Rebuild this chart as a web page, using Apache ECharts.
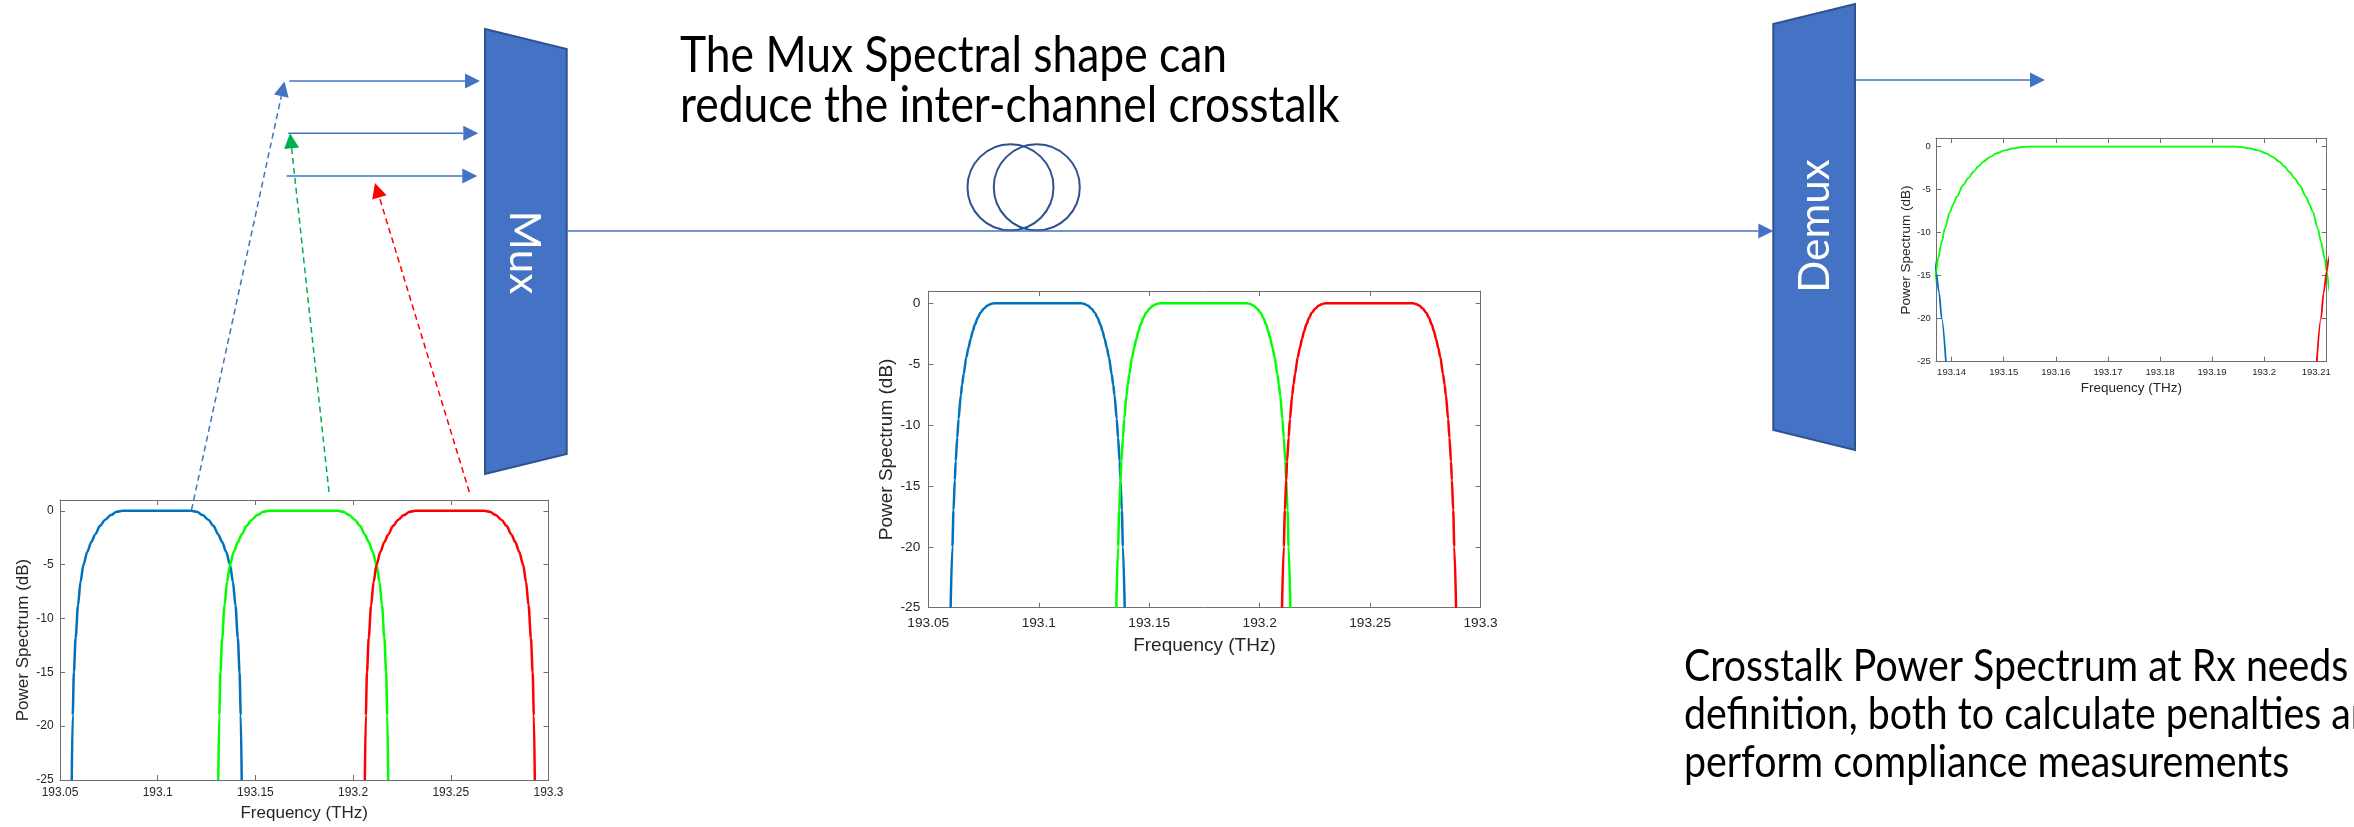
<!DOCTYPE html>
<html>
<head>
<meta charset="utf-8">
<script src="https://cdn.jsdelivr.net/npm/echarts@6.0.0/dist/echarts.min.js"></script>
<style>
html,body{margin:0;padding:0;background:#fff;overflow:hidden}
#c{width:2354px;height:827px}
</style>
</head>
<body>
<div id="c"></div>
<script>
// ---------------- DATA ----------------
// Tx spectra (bottom-left panel): [frequency THz, power dB]
const txBlue = [[193.0560,-25],[193.0565,-19],[193.0571,-15],[193.0580,-11.8],[193.0592,-8.8],[193.0605,-6.6],[193.0620,-5.0],[193.0640,-3.8],[193.0660,-2.9],[193.0680,-2.2],[193.0705,-1.4],[193.0730,-0.85],[193.0760,-0.4],[193.0790,-0.1],[193.0820,0],
  [193.1170,0],[193.1200,-0.1],[193.1230,-0.4],[193.1260,-0.85],[193.1285,-1.4],[193.1310,-2.2],[193.1330,-2.9],[193.1350,-3.8],[193.1370,-5.0],[193.1385,-6.6],[193.1398,-8.8],[193.1410,-11.8],[193.1419,-15],[193.1425,-19],[193.1430,-25]];
const txGreen = [[193.1310,-25],[193.1315,-19],[193.1321,-15],[193.1330,-11.8],[193.1342,-8.8],[193.1355,-6.6],[193.1370,-5.0],[193.1390,-3.8],[193.1410,-2.9],[193.1430,-2.2],[193.1455,-1.4],[193.1480,-0.85],[193.1510,-0.4],[193.1540,-0.1],[193.1570,0],
  [193.1920,0],[193.1950,-0.1],[193.1980,-0.4],[193.2010,-0.85],[193.2035,-1.4],[193.2060,-2.2],[193.2080,-2.9],[193.2100,-3.8],[193.2120,-5.0],[193.2135,-6.6],[193.2148,-8.8],[193.2160,-11.8],[193.2169,-15],[193.2175,-19],[193.2180,-25]];
const txRed = [[193.2060,-25],[193.2065,-19],[193.2071,-15],[193.2080,-11.8],[193.2092,-8.8],[193.2105,-6.6],[193.2120,-5.0],[193.2140,-3.8],[193.2160,-2.9],[193.2180,-2.2],[193.2205,-1.4],[193.2230,-0.85],[193.2260,-0.4],[193.2290,-0.1],[193.2320,0],
  [193.2670,0],[193.2700,-0.1],[193.2730,-0.4],[193.2760,-0.85],[193.2785,-1.4],[193.2810,-2.2],[193.2830,-2.9],[193.2850,-3.8],[193.2870,-5.0],[193.2885,-6.6],[193.2898,-8.8],[193.2910,-11.8],[193.2919,-15],[193.2925,-19],[193.2930,-25]];

// After Mux (centre panel; the right panel is a zoom of the same spectra)
const muxBlue = [[193.0601,-25],[193.0609,-20],[193.0614,-17],[193.0620,-14.53],[193.0624,-12.98],[193.0631,-11.05],[193.0637,-9.5],[193.0647,-7.56],[193.0653,-6.7],[193.0660,-5.81],[193.0672,-4.46],[193.0682,-3.65],[193.0692,-2.91],[193.0701,-2.3],[193.0711,-1.74],[193.0724,-1.18],[193.0736,-0.78],[193.0752,-0.43],[193.0768,-0.19],[193.0783,-0.06],[193.0797,0],
  [193.1193,0],[193.1207,-0.06],[193.1222,-0.19],[193.1238,-0.43],[193.1254,-0.78],[193.1266,-1.18],[193.1279,-1.74],[193.1289,-2.3],[193.1298,-2.91],[193.1308,-3.65],[193.1318,-4.46],[193.1330,-5.81],[193.1337,-6.7],[193.1343,-7.56],[193.1353,-9.5],[193.1359,-11.05],[193.1366,-12.98],[193.1370,-14.53],[193.1376,-17],[193.1381,-20],[193.1389,-25]];
const muxGreen = [[193.1351,-25],[193.1359,-20],[193.1364,-17],[193.1370,-14.53],[193.1374,-12.98],[193.1381,-11.05],[193.1387,-9.5],[193.1397,-7.56],[193.1403,-6.7],[193.1410,-5.81],[193.1422,-4.46],[193.1432,-3.65],[193.1442,-2.91],[193.1451,-2.3],[193.1461,-1.74],[193.1474,-1.18],[193.1486,-0.78],[193.1502,-0.43],[193.1518,-0.19],[193.1533,-0.06],[193.1547,0],
  [193.1943,0],[193.1957,-0.06],[193.1972,-0.19],[193.1988,-0.43],[193.2004,-0.78],[193.2016,-1.18],[193.2029,-1.74],[193.2039,-2.3],[193.2048,-2.91],[193.2058,-3.65],[193.2068,-4.46],[193.2080,-5.81],[193.2087,-6.7],[193.2093,-7.56],[193.2103,-9.5],[193.2109,-11.05],[193.2116,-12.98],[193.2120,-14.53],[193.2126,-17],[193.2131,-20],[193.2139,-25]];
const muxRed = [[193.2101,-25],[193.2109,-20],[193.2114,-17],[193.2120,-14.53],[193.2124,-12.98],[193.2131,-11.05],[193.2137,-9.5],[193.2147,-7.56],[193.2153,-6.7],[193.2160,-5.81],[193.2172,-4.46],[193.2182,-3.65],[193.2192,-2.91],[193.2201,-2.3],[193.2211,-1.74],[193.2224,-1.18],[193.2236,-0.78],[193.2252,-0.43],[193.2268,-0.19],[193.2283,-0.06],[193.2297,0],
  [193.2693,0],[193.2707,-0.06],[193.2722,-0.19],[193.2738,-0.43],[193.2754,-0.78],[193.2766,-1.18],[193.2779,-1.74],[193.2789,-2.3],[193.2798,-2.91],[193.2808,-3.65],[193.2818,-4.46],[193.2830,-5.81],[193.2837,-6.7],[193.2843,-7.56],[193.2853,-9.5],[193.2859,-11.05],[193.2866,-12.98],[193.2870,-14.53],[193.2876,-17],[193.2881,-20],[193.2889,-25]];

// Axis ranges and tick labels
const wideFreqRange = [193.05, 193.3];
const zoomFreqRange = [193.137, 193.212];
const wideFreqTicks = [193.05, 193.1, 193.15, 193.2, 193.25, 193.3];
const zoomFreqTicks = [193.14, 193.15, 193.16, 193.17, 193.18, 193.19, 193.2, 193.21];
const powerRange = [-25, 1];
const powerTicks = [-25, -20, -15, -10, -5, 0];

// Texts
const xName = 'Frequency (THz)';
const yName = 'Power Spectrum (dB)';
const topText = ['The Mux Spectral shape can', 'reduce the inter-channel crosstalk'];
const bottomText = ['Crosstalk Power Spectrum at Rx needs', 'definition, both to calculate penalties and', 'perform compliance measurements'];

// ---------------- STYLE / LAYOUT ----------------
const BLUE = '#0072BD', GREEN = '#00FF00', RED = '#FF0000';
const AX = '#6f6f6f', TXT = '#262626';
const PPT = '#4472C4', PPT_DARK = '#2F528F';
const PLOTFONT = '"Liberation Sans", Arial, Helvetica, sans-serif';
const SLIDEFONT = 'Lato';
const SLIDE_SY = 1.15;   // slide text is slightly stretched vertically

const fmt = v => String(Math.round(v * 10000) / 10000);

function fitSize(lines, target) {
  const ctx = document.createElement('canvas').getContext('2d');
  ctx.font = '100px ' + SLIDEFONT;
  let w = 0;
  lines.forEach(l => { w += ctx.measureText(l).width; });
  return 100 * target / w;
}

const panels = [
  {grid: {left: 60, top: 500, width: 488.5, height: 280}, xr: wideFreqRange, xt: wideFreqTicks,
   tfs: 12, nfs: 17, xm: 7, ym: 6.4, xng: 25, yng: 28.5, lw: 2.5, series: [txBlue, txGreen, txRed]},
  {grid: {left: 928.3, top: 291.1, width: 552.3, height: 316.6}, xr: wideFreqRange, xt: wideFreqTicks,
   tfs: 13.7, nfs: 19, xm: 8.8, ym: 8, xng: 29, yng: 32, lw: 2.5, series: [muxBlue, muxGreen, muxRed]},
  {grid: {left: 1936, top: 138.1, width: 390.7, height: 223.6}, xr: zoomFreqRange, xt: zoomFreqTicks,
   tfs: 9.5, nfs: 13.5, xm: 5.2, ym: 5.3, xng: 19.2, yng: 22.6, lw: 1.8, series: [muxBlue, muxGreen, muxRed]}
];

const grids = [], xAxes = [], yAxes = [], series = [];
const colors = [BLUE, GREEN, RED];
panels.forEach((p, g) => {
  grids.push(Object.assign({containLabel: false}, p.grid));
  const line = {show: true, onZero: false, lineStyle: {color: AX, width: 1}};
  const tick = (vals) => ({show: true, inside: true, length: 5, customValues: vals, lineStyle: {color: AX, width: 1}});
  xAxes.push({type: 'value', gridIndex: g, position: 'bottom', min: p.xr[0], max: p.xr[1],
    axisLine: line, axisTick: tick(p.xt), splitLine: {show: false},
    axisLabel: {show: true, customValues: p.xt, formatter: fmt, color: TXT, fontSize: p.tfs, fontFamily: PLOTFONT, margin: p.xm},
    name: xName, nameLocation: 'middle', nameGap: p.xng,
    nameTextStyle: {fontSize: p.nfs, color: TXT, fontFamily: PLOTFONT, verticalAlign: 'top'}});
  xAxes.push({type: 'value', gridIndex: g, position: 'top', min: p.xr[0], max: p.xr[1],
    axisLine: line, axisTick: tick(p.xt), splitLine: {show: false}, axisLabel: {show: false}});
  yAxes.push({type: 'value', gridIndex: g, position: 'left', min: powerRange[0], max: powerRange[1],
    axisLine: line, axisTick: tick(powerTicks), splitLine: {show: false},
    axisLabel: {show: true, customValues: powerTicks, color: TXT, fontSize: p.tfs, fontFamily: PLOTFONT, margin: p.ym},
    name: yName, nameLocation: 'middle', nameGap: p.yng, nameRotate: 90,
    nameTextStyle: {fontSize: p.nfs, color: TXT, fontFamily: PLOTFONT}});
  yAxes.push({type: 'value', gridIndex: g, position: 'right', min: powerRange[0], max: powerRange[1],
    axisLine: line, axisTick: tick(powerTicks), splitLine: {show: false}, axisLabel: {show: false}});
  p.series.forEach((d, i) => {
    series.push({type: 'line', xAxisIndex: 2 * g, yAxisIndex: 2 * g, data: d, showSymbol: false,
      smooth: 0.3, smoothMonotone: 'x', clip: true, silent: true,
      lineStyle: {color: colors[i], width: p.lw}, itemStyle: {color: colors[i]}});
  });
});

// ---------------- DIAGRAM GRAPHICS ----------------
function arrow(x1, y1, x2, y2, color, dashed, hl, hw) {
  const dx = x2 - x1, dy = y2 - y1, L = Math.hypot(dx, dy), ux = dx / L, uy = dy / L;
  const bx = x2 - ux * hl, by = y2 - uy * hl, px = -uy, py = ux;
  return [
    {type: 'line', silent: true, z: 50, shape: {x1: x1, y1: y1, x2: bx, y2: by},
     style: {stroke: color, lineWidth: 1.5, lineDash: dashed ? [6, 4] : null}},
    {type: 'polygon', silent: true, z: 50,
     shape: {points: [[x2, y2], [bx + px * hw, by + py * hw], [bx - px * hw, by - py * hw]]},
     style: {fill: color}}
  ];
}

const topFs = fitSize(topText, 545 + 662);
const botFs = fitSize([bottomText[0], bottomText[2]], 655 + 615);
const boxFs = fitSize(['Demux', 'Mux'], 135 + 82);

const graphics = [
  // Mux and Demux trapezoids
  {type: 'polygon', silent: true, z: 40, shape: {points: [[485, 29], [566.7, 49], [566.7, 454], [485, 474]]},
   style: {fill: PPT, stroke: PPT_DARK, lineWidth: 2}},
  {type: 'polygon', silent: true, z: 40, shape: {points: [[1773.3, 24], [1855, 4], [1855, 450], [1773.3, 430]]},
   style: {fill: PPT, stroke: PPT_DARK, lineWidth: 2}},
  {type: 'text', silent: true, z: 41, x: 524, y: 252.5, rotation: -Math.PI / 2,
   style: {text: 'Mux', fill: '#fff', fontSize: boxFs, fontFamily: SLIDEFONT, align: 'center', verticalAlign: 'middle'}},
  {type: 'text', silent: true, z: 41, x: 1815, y: 226, rotation: Math.PI / 2,
   style: {text: 'Demux', fill: '#fff', fontSize: boxFs, fontFamily: SLIDEFONT, align: 'center', verticalAlign: 'middle'}},
  // fibre coil
  {type: 'circle', silent: true, z: 40, shape: {cx: 1010.5, cy: 187.3, r: 43}, style: {fill: null, stroke: PPT_DARK, lineWidth: 2}},
  {type: 'circle', silent: true, z: 40, shape: {cx: 1036.8, cy: 187.3, r: 43}, style: {fill: null, stroke: PPT_DARK, lineWidth: 2}}
];
[].concat(
  arrow(289.3, 81, 480, 81, PPT, false, 15, 7.5),
  arrow(288.3, 133.3, 478.3, 133.3, PPT, false, 15, 7.5),
  arrow(286.7, 176, 477.3, 176, PPT, false, 15, 7.5),
  arrow(566.7, 231, 1773.3, 231, PPT, false, 15, 7.5),
  arrow(1855, 80, 2045, 80, PPT, false, 15, 7.5),
  arrow(191.5, 510, 284.5, 81.5, PPT, true, 15, 7.5),
  arrow(329, 492, 290, 133.3, '#00B050', true, 15, 7.5),
  arrow(469.3, 492, 375, 183, RED, true, 15, 7.5)
).forEach(e => graphics.push(e));

function slideLine(t, x, baseline, fs) {
  return {type: 'text', silent: true, z: 60, x: x, y: baseline - 0.387 * fs * SLIDE_SY, scaleY: SLIDE_SY,
    style: {text: t, fill: '#000', fontSize: fs, fontFamily: SLIDEFONT, align: 'left', verticalAlign: 'middle'}};
}
topText.forEach((t, i) => graphics.push(slideLine(t, 680, [75, 125][i], topFs)));
bottomText.forEach((t, i) => graphics.push(slideLine(t, 1684, [684, 732, 780][i], botFs)));

const chart = echarts.init(document.getElementById('c'), null, {renderer: 'canvas', width: 2354, height: 827});
chart.setOption({
  backgroundColor: '#fff',
  animation: false,
  grid: grids,
  xAxis: xAxes,
  yAxis: yAxes,
  series: series,
  graphic: {elements: graphics}
});
</script>
</body>
</html>
